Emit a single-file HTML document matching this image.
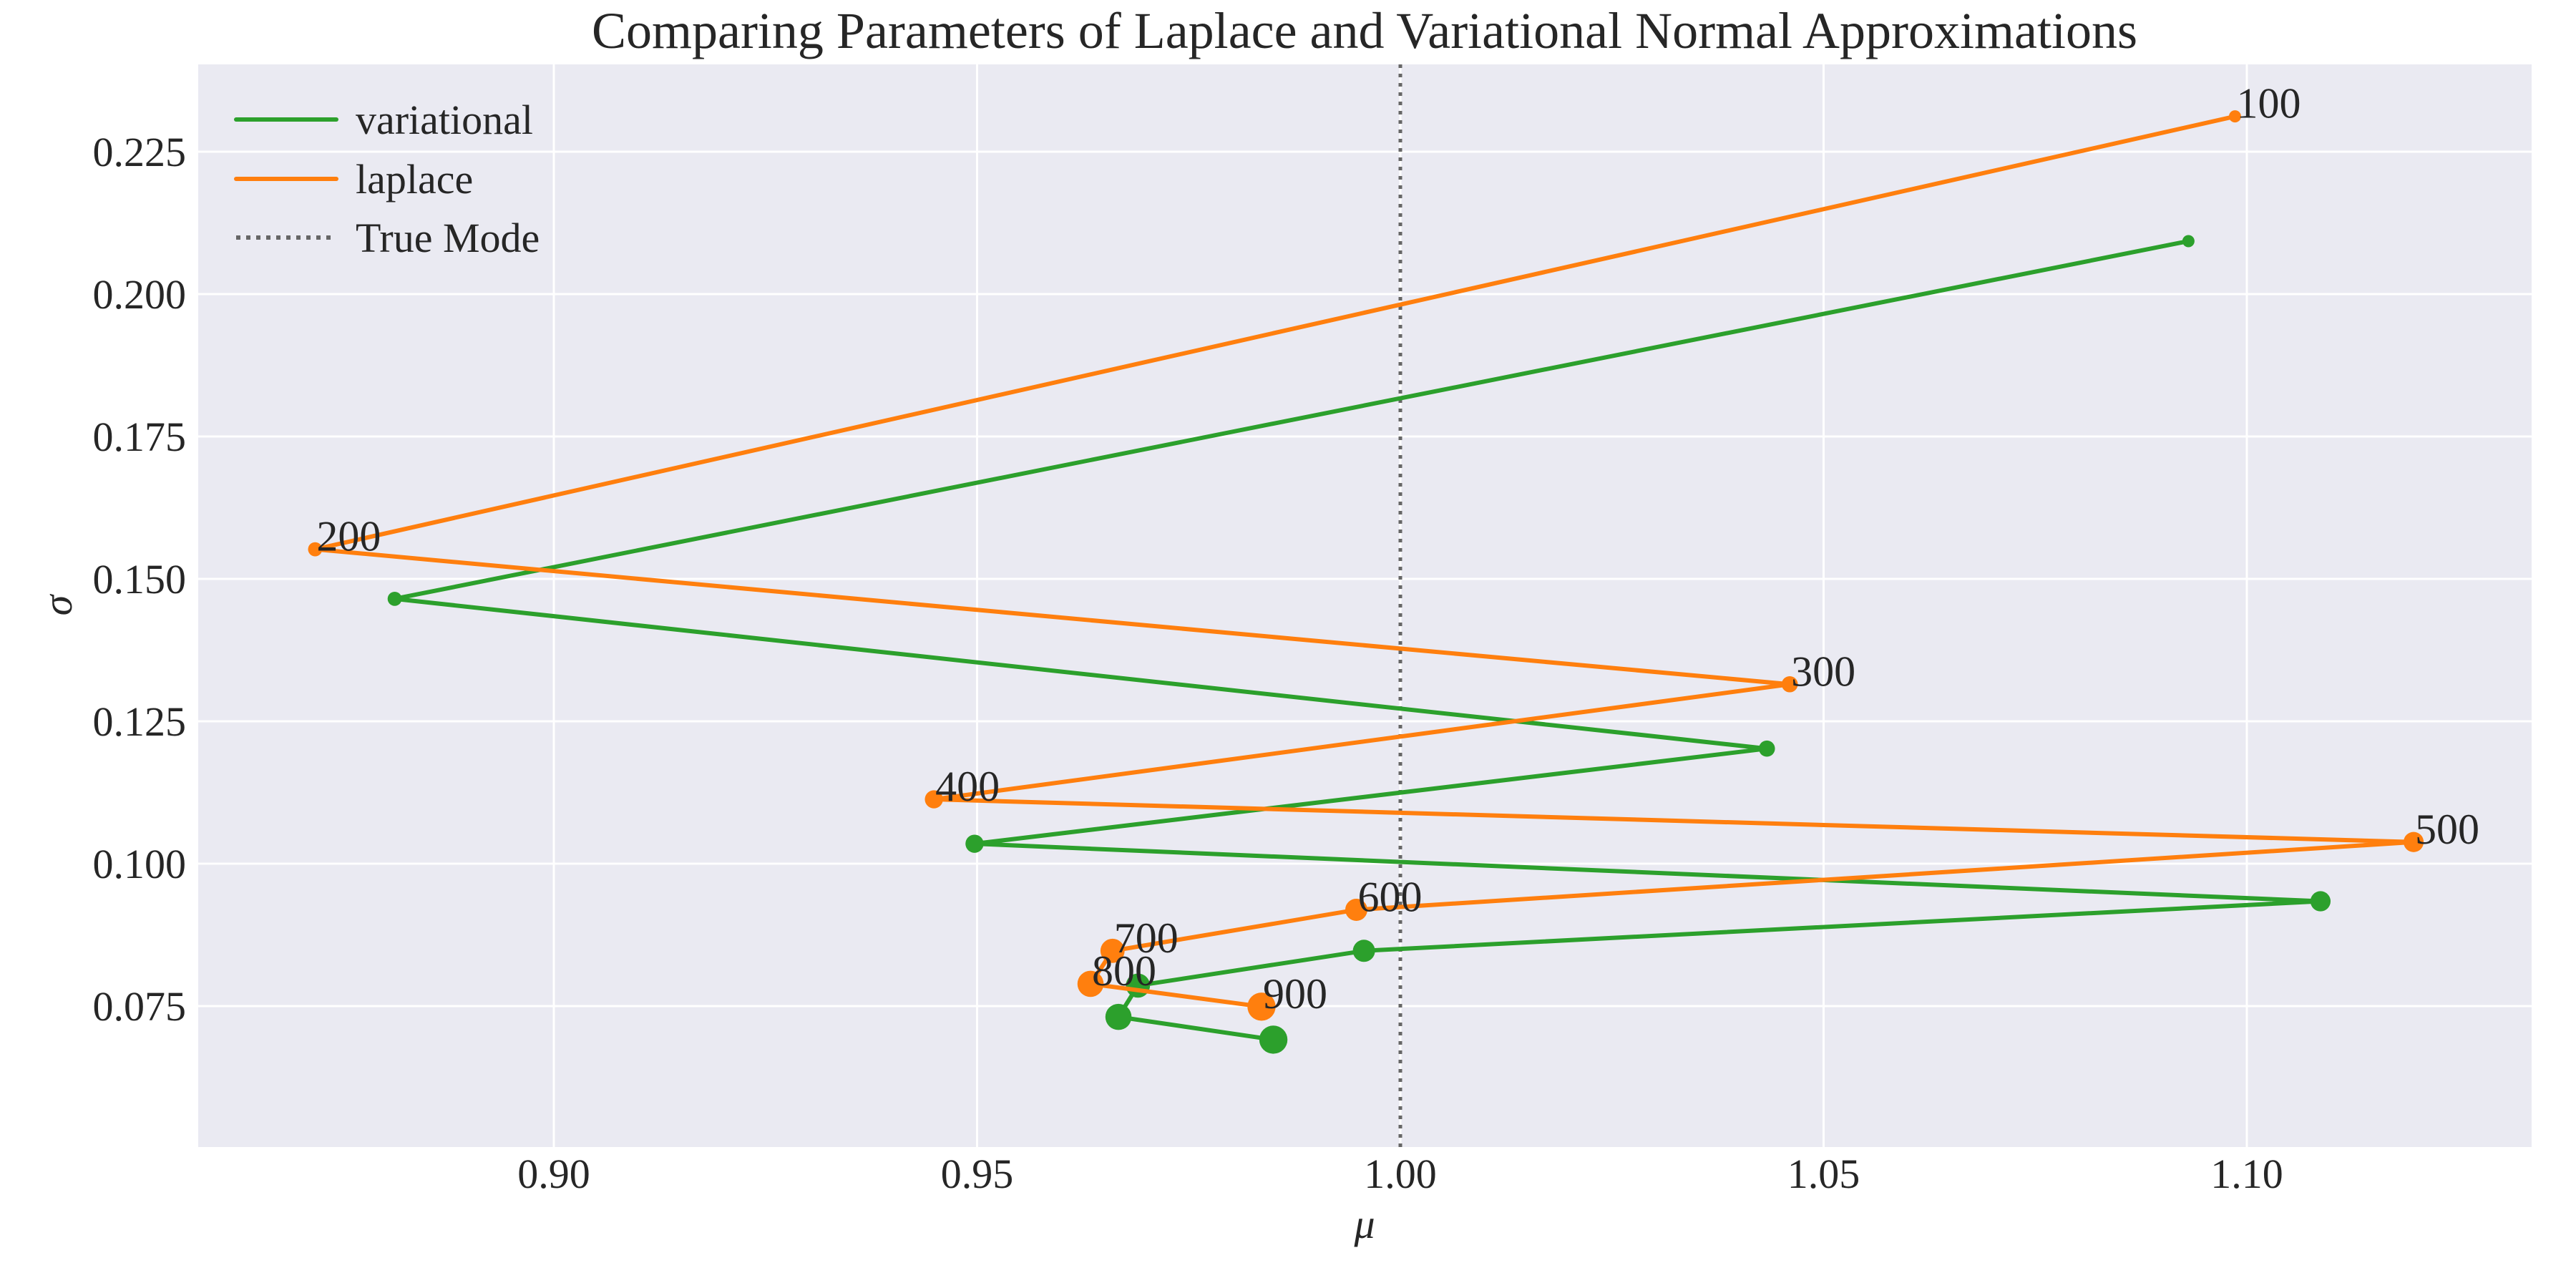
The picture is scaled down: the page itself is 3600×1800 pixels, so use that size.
<!DOCTYPE html>
<html><head><meta charset="utf-8"><style>
html,body{margin:0;padding:0;background:#fff;}
svg{display:block;font-family:"Liberation Serif","DejaVu Serif",serif;}
</style></head><body>
<svg id="chart" width="3600" height="1800" xmlns="http://www.w3.org/2000/svg">
<text x="1907" y="67" font-size="72" fill="#262626" text-anchor="middle">Comparing Parameters of Laplace and Variational Normal Approximations</text>
<rect x="277" y="90" width="3261" height="1513" fill="#EAEAF2"/>
<g id="grid"></g>
<g id="ticks"></g>
<g id="marks"></g>
<text x="1907" y="1730" font-size="58" font-style="italic" fill="#262626" text-anchor="middle">μ</text>
<text x="100" y="846" font-size="58" font-style="italic" fill="#262626" text-anchor="middle" transform="rotate(-90 100 846)">σ</text>
<g>
<line x1="330" y1="167" x2="470" y2="167" stroke="#2ca02c" stroke-width="6" stroke-linecap="round"/>
<text x="497" y="187" font-size="58" fill="#262626">variational</text>
<line x1="330" y1="250" x2="470" y2="250" stroke="#ff7f0e" stroke-width="6" stroke-linecap="round"/>
<text x="497" y="270" font-size="58" fill="#262626">laplace</text>
<line x1="330" y1="332" x2="470" y2="332" stroke="#666" stroke-width="6" stroke-dasharray="6,8"/>
<text x="497" y="352" font-size="58" fill="#262626">True Mode</text>
</g>
</svg>
<script>
const labels = [100,200,300,400,500,600,700,800,900];
const varMu = [1.0931,0.8812,1.0433,0.9497,1.1087,0.9957,0.969,0.9667,0.985];
const varSigma = [0.2093,0.1465,0.1202,0.1035,0.0934,0.0847,0.0786,0.0731,0.0691];
const lapMu = [1.0986,0.8718,1.046,0.9449,1.1197,0.9948,0.966,0.9634,0.9836];
const lapSigma = [0.2312,0.1552,0.1315,0.1113,0.1038,0.0919,0.0847,0.0789,0.0749];
const xTicks = [0.90,0.95,1.00,1.05,1.10];
const xTickLabels = ["0.90","0.95","1.00","1.05","1.10"];
const yTicks = [0.075,0.100,0.125,0.150,0.175,0.200,0.225];
const yTickLabels = ["0.075","0.100","0.125","0.150","0.175","0.200","0.225"];
const trueMode = 1.0;

const NS = "http://www.w3.org/2000/svg";
const X = v => 1957 + (v - 1.0) * 11830;
const Y = v => 1207 - (v - 0.1) * 7960;
function mk(tag, attrs, parent){const e=document.createElementNS(NS,tag);for(const k in attrs)e.setAttribute(k,attrs[k]);parent.appendChild(e);return e;}
const grid=document.getElementById('grid'), ticks=document.getElementById('ticks'), marks=document.getElementById('marks');
xTicks.forEach((t,i)=>{
  const l=mk('line',{x1:X(t),x2:X(t),y1:90,y2:1603,stroke:'#fff','stroke-width':3},grid);
  
  
  const tx=mk('text',{x:X(t),y:1660,'font-size':58,fill:'#262626','text-anchor':'middle'},ticks);
  tx.textContent=xTickLabels[i];
  
  
});
yTicks.forEach((t,i)=>{
  const l=mk('line',{x1:277,x2:3538,y1:Y(t),y2:Y(t),stroke:'#fff','stroke-width':3},grid);
  
  
  const tx=mk('text',{x:260,y:Y(t)+20,'font-size':58,fill:'#262626','text-anchor':'end'},ticks);
  tx.textContent=yTickLabels[i];
  
  
});
const tm=mk('line',{x1:X(trueMode),x2:X(trueMode),y1:90,y2:1603,stroke:'#666','stroke-width':5,'stroke-dasharray':'5,8'},marks);


function series(mu,sig,color,name,annotate){
  const p=mk('polyline',{points:mu.map((m,i)=>X(m)+','+Y(sig[i])).join(' '),fill:'none',stroke:color,'stroke-width':6,'stroke-linejoin':'round'},marks);
  
  
  mu.forEach((m,i)=>{
    const c=mk('circle',{cx:X(m),cy:Y(sig[i]),r:8.5+1.4*i,fill:color},marks);
    
    
    if(annotate){
      const t=mk('text',{x:X(m)+2,y:Y(sig[i])+2,'font-size':60,fill:'#262626'},marks);
      t.textContent=labels[i];
      
      
    }
  });
}
series(varMu,varSigma,'#2ca02c','variational',false);
series(lapMu,lapSigma,'#ff7f0e','laplace',true);
</script>
</body></html>
